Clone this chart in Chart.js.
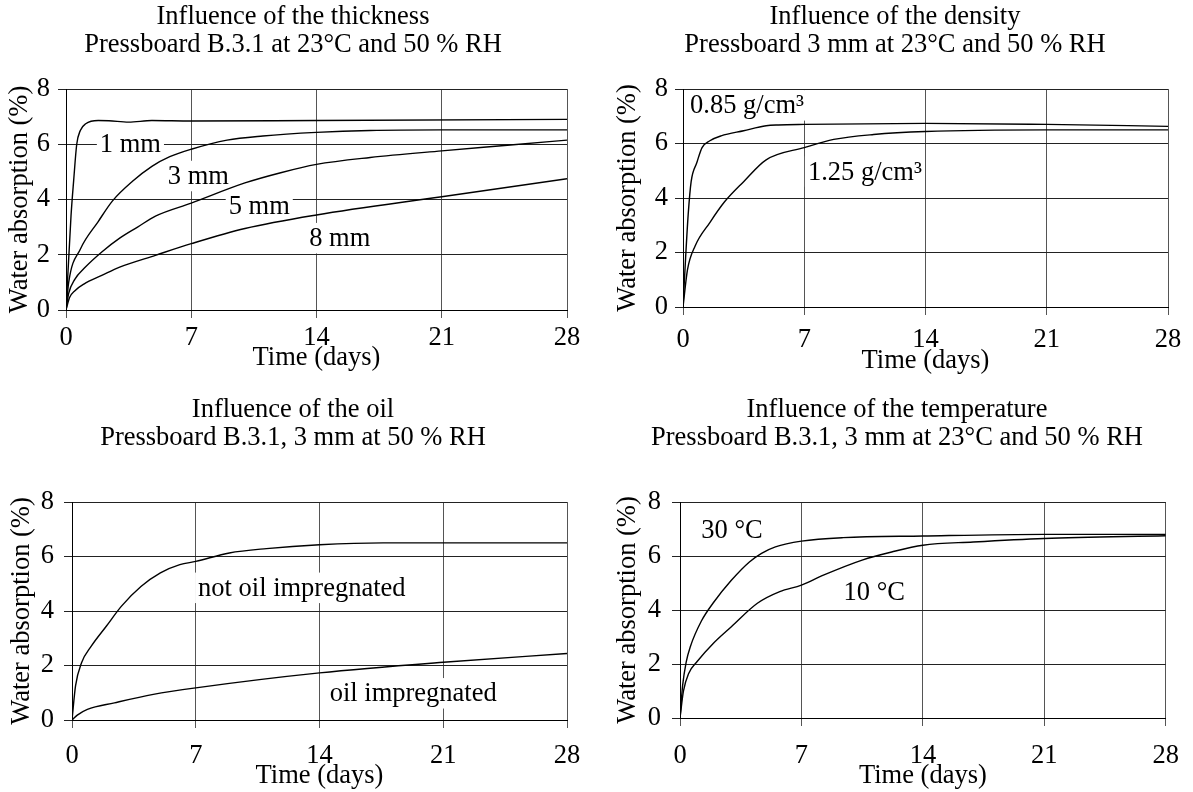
<!DOCTYPE html>
<html>
<head>
<meta charset="utf-8">
<script src="https://cdn.jsdelivr.net/npm/chart.js@4.4.1/dist/chart.umd.min.js"></script>
<style>
  html, body { margin: 0; padding: 0; background: #fff; overflow: hidden; }
  .box { position: absolute; }
</style>
</head>
<body>
<div class="box" style="left:0;top:0"><canvas id="c1" width="596" height="396"></canvas></div>
<div class="box" style="left:596px;top:0"><canvas id="c2" width="597" height="396"></canvas></div>
<div class="box" style="left:0;top:396px"><canvas id="c3" width="596" height="396"></canvas></div>
<div class="box" style="left:596px;top:396px"><canvas id="c4" width="597" height="396"></canvas></div>
<script>
// ---- data (x = days, y = water absorption %) ----
const dayTicks = [0, 7, 14, 21, 28];

// thickness
const mm1Days = [0, 0.28, 0.43, 0.6, 0.8, 1.1, 1.8, 2.4, 3.5, 4.8, 7, 14, 28];
const mm1 =     [0, 3.4, 4.7, 6.0, 6.5, 6.74, 6.86, 6.85, 6.8, 6.86, 6.84, 6.86, 6.9];
const mm3Days = [0, 0.15, 0.8, 1.8, 2.6, 3.7, 4.8, 5.8, 7, 9, 11, 14, 17, 21, 28];
const mm3 =     [0, 1.0, 2.2, 3.2, 3.95, 4.65, 5.2, 5.55, 5.82, 6.15, 6.3, 6.43, 6.5, 6.52, 6.52];
const mm5Days = [0, 0.15, 0.5, 1, 2, 3, 4, 5, 7, 10, 12, 14, 17, 21, 25, 28];
const mm5 =     [0, 0.6, 1.12, 1.5, 2.1, 2.6, 3.0, 3.4, 3.87, 4.6, 4.97, 5.27, 5.52, 5.76, 5.98, 6.15];
const mm8Days = [0, 0.2, 0.5, 1, 2, 3, 5, 7, 10, 14, 21, 28];
const mm8 =     [0, 0.45, 0.7, 0.94, 1.25, 1.55, 1.98, 2.4, 2.95, 3.44, 4.1, 4.75];

// density
const d085Days = [0, 0.15, 0.3, 0.47, 0.8, 1.1, 1.55, 2.2, 3.5, 4.8, 5.5, 7, 14, 21, 28];
const d085 =     [0, 1.8, 3.4, 4.6, 5.3, 5.85, 6.1, 6.28, 6.47, 6.65, 6.68, 6.7, 6.74, 6.7, 6.63];
const d125Days = [0, 0.26, 0.7, 1.55, 2.4, 3.5, 4.8, 7, 8.7, 11, 14, 21, 28];
const d125 =     [0, 1.37, 2.24, 3.1, 3.86, 4.6, 5.4, 5.85, 6.15, 6.33, 6.44, 6.5, 6.5];

// oil
const dryDays = [0, 0.2, 0.54, 1.08, 1.95, 2.8, 3.9, 5, 6.1, 7, 8.9, 11, 14, 17.6, 21, 28];
const dry =     [0, 1.25, 2.1, 2.7, 3.45, 4.18, 4.9, 5.4, 5.7, 5.82, 6.13, 6.29, 6.43, 6.5, 6.5, 6.5];
const oilDays = [0, 0.3, 0.87, 2.4, 4.6, 7, 14, 21, 28];
const oil =     [0, 0.18, 0.39, 0.63, 0.94, 1.18, 1.73, 2.12, 2.44];

// temperature
const t30Days = [0, 0.15, 0.35, 0.6, 1.24, 1.9, 2.96, 4, 4.7, 5.5, 7, 9.4, 14, 21, 28];
const t30 =     [0, 1.2, 2.05, 2.65, 3.6, 4.25, 5.1, 5.78, 6.1, 6.34, 6.55, 6.68, 6.74, 6.8, 6.8];
const t10Days = [0, 0.2, 0.5, 1.0, 1.9, 2.96, 4.46, 5.75, 7, 8.3, 10.5, 12.2, 14, 16.9, 21, 28];
const t10 =     [0, 1.0, 1.65, 2.1, 2.75, 3.38, 4.25, 4.68, 4.92, 5.3, 5.85, 6.15, 6.4, 6.52, 6.65, 6.75];

// curve labels: text, day, value
const thickLabels = [["1 mm", 3.6, 6.0], ["3 mm", 7.4, 4.85], ["5 mm", 10.8, 3.75], ["8 mm", 15.3, 2.6]];
const densLabels = [["0.85 g/cm³", 3.7, 7.4], ["1.25 g/cm³", 10.5, 4.97]];
const oilLabels = [["not oil impregnated", 13, 4.85], ["oil impregnated", 19.3, 0.98]];
const tempLabels = [["30 °C", 3.0, 6.95], ["10 °C", 11.2, 4.68]];

const SERIF = "'Liberation Serif', 'DejaVu Serif', serif";
const FS = 26.5;

function pairs(xs, ys) {
    return xs.map((x, i) => ({ x: x, y: ys[i] }));
}

// text on the plot, white box behind it so grid lines break like the original
const curveLabels = {
    id: 'curveLabels',
    beforeDatasetsDraw(chart, args, opts) {
        const ctx = chart.ctx;
        const xs = chart.scales.x, ys = chart.scales.y;
        ctx.save();
        ctx.font = FS + "px " + SERIF;
        ctx.textAlign = 'center';
        ctx.textBaseline = 'middle';
        (opts.items || []).forEach(it => {
            const px = xs.getPixelForValue(it[1]);
            const py = ys.getPixelForValue(it[2]);
            const w = ctx.measureText(it[0]).width;
            ctx.fillStyle = '#fff';
            ctx.fillRect(px - w / 2 - 3, py - FS / 2 - 2, w + 6, FS + 4);
            ctx.fillStyle = '#000';
            ctx.fillText(it[0], px, py + 1);
        });
        ctx.restore();
    }
};

// two-line heading, centred where the original has it
const panelTitle = {
    id: 'panelTitle',
    afterDraw(chart, args, opts) {
        const ctx = chart.ctx;
        ctx.save();
        ctx.font = FS + "px " + SERIF;
        ctx.fillStyle = '#000';
        ctx.textAlign = 'center';
        ctx.textBaseline = 'middle';
        opts.lines.forEach((t, i) => ctx.fillText(t, opts.cx, opts.y + i * 28));
        ctx.restore();
    }
};

function makeChart(id, titleLines, series, labels, box) {
    const canvas = document.getElementById(id);
    const W = canvas.width, H = canvas.height;
    return new Chart(canvas, {
        type: 'line',
        data: {
            datasets: series.map(s => ({
                data: pairs(s[0], s[1]),
                borderColor: '#000',
                borderWidth: 1.4,
                pointRadius: 0,
                fill: false,
                cubicInterpolationMode: 'monotone'
            }))
        },
        options: {
            responsive: false,
            animation: false,
            layout: { padding: { left: 0, top: box.top, bottom: 0, right: W - box.right } },
            plugins: {
                legend: { display: false },
                tooltip: { enabled: false },
                title: { display: false },
                panelTitle: { lines: titleLines, cx: box.titleX, y: box.titleY },
                curveLabels: { items: labels }
            },
            scales: {
                x: {
                    type: 'linear',
                    min: 0, max: 28,
                    afterBuildTicks: (s) => { s.ticks = dayTicks.map(v => ({ value: v })); },
                    afterFit: (s) => { s.height = H - box.bottom; },
                    grid: { color: '#555', lineWidth: 1, tickLength: 8 },
                    border: { color: '#000', width: 1 },
                    ticks: { color: '#000', font: { family: SERIF, size: FS }, padding: box.xTick, maxRotation: 0 },
                    title: {
                        display: true, text: 'Time (days)', color: '#000',
                        font: { family: SERIF, size: FS }, padding: { top: 0, bottom: box.xTitle }
                    }
                },
                y: {
                    min: 0, max: 8,
                    afterFit: (s) => { s.width = box.left; },
                    grid: { color: '#222', lineWidth: 1, tickLength: 8 },
                    border: { color: '#000', width: 1 },
                    ticks: { stepSize: 2, color: '#000', font: { family: SERIF, size: FS }, padding: box.yTick },
                    title: {
                        display: true, text: 'Water absorption (%)', color: '#000',
                        font: { family: SERIF, size: FS }, padding: { top: box.yTitle, bottom: 0 }
                    }
                }
            }
        },
        plugins: [curveLabels, panelTitle]
    });
}

makeChart('c1', ["Influence of the thickness", "Pressboard B.3.1 at 23°C and 50 % RH"],
    [[mm1Days, mm1], [mm3Days, mm3], [mm5Days, mm5], [mm8Days, mm8]], thickLabels,
    { left: 66, right: 567, top: 89, bottom: 310, titleX: 293, titleY: 17, xTick: 4, xTitle: 22, yTick: 8, yTitle: 4 });

makeChart('c2', ["Influence of the density", "Pressboard 3 mm at 23°C and 50 % RH"],
    [[d085Days, d085], [d125Days, d125]], densLabels,
    { left: 87, right: 572, top: 89, bottom: 307, titleX: 299, titleY: 17, xTick: 9, xTitle: 19, yTick: 7, yTitle: 16 });

makeChart('c3', ["Influence of the oil", "Pressboard B.3.1, 3 mm at 50 % RH"],
    [[dryDays, dry], [oilDays, oil]], oilLabels,
    { left: 72, right: 567, top: 106, bottom: 324, titleX: 293, titleY: 14, xTick: 12, xTitle: 0, yTick: 10, yTitle: 6 });

makeChart('c4', ["Influence of the temperature", "Pressboard B.3.1, 3 mm at 23°C and 50 % RH"],
    [[t30Days, t30], [t10Days, t10]], tempLabels,
    { left: 84, right: 572, top: 106, bottom: 322, titleX: 301, titleY: 14, xTick: 14, xTitle: 0, yTick: 11, yTitle: 16 });
</script>
</body>
</html>
